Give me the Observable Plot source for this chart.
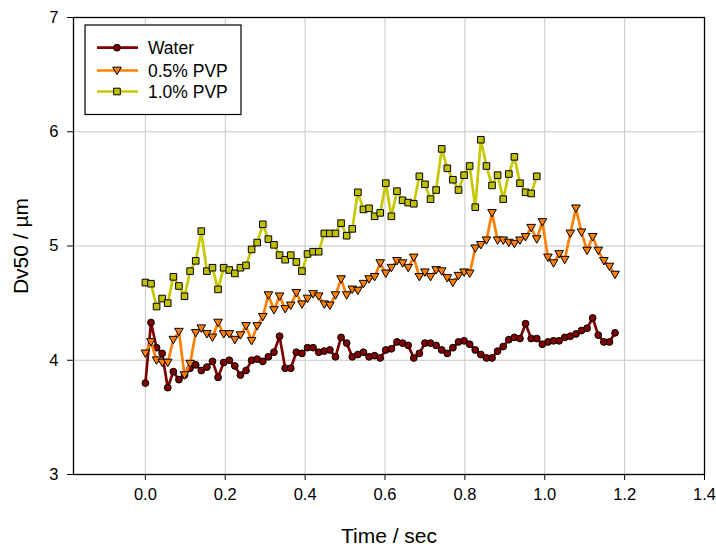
<!DOCTYPE html>
<html><head><meta charset="utf-8">
<script src="https://cdn.jsdelivr.net/npm/d3@7"></script>
<script src="https://cdn.jsdelivr.net/npm/@observablehq/plot@0.6"></script>
<style>
body{margin:0;background:#fff;}
#wrap{position:relative;width:716px;height:549px;font-family:"Liberation Sans",Arial,sans-serif;}
#legend{position:absolute;left:0;top:0;pointer-events:none;}
</style></head><body><div id="wrap"></div>
<script>
// sampling interval (sec)
const dt = 0.014;
const water = [3.80,4.33,4.11,4.06,3.76,3.90,3.83,3.87,3.93,3.96,3.91,3.94,3.99,3.85,3.98,4.00,3.95,3.87,3.91,4.00,
  4.01,3.99,4.03,4.07,4.21,3.93,3.93,4.07,4.06,4.11,4.11,4.07,4.08,4.09,4.03,4.20,4.15,4.03,4.05,4.07,
  4.03,4.04,4.02,4.09,4.10,4.16,4.15,4.13,4.02,4.06,4.15,4.15,4.13,4.09,4.06,4.11,4.16,4.17,4.14,4.09,
  4.05,4.02,4.02,4.08,4.12,4.18,4.20,4.19,4.32,4.19,4.19,4.14,4.16,4.17,4.17,4.20,4.21,4.23,4.26,4.28,
  4.37,4.22,4.16,4.16,4.24];
const pvp05 = [4.06,4.16,4.00,3.98,3.98,4.18,4.25,3.87,3.97,4.24,4.28,4.23,4.20,4.33,4.23,4.23,4.18,4.22,4.30,4.17,
  4.30,4.38,4.57,4.44,4.56,4.45,4.48,4.59,4.49,4.54,4.58,4.56,4.49,4.48,4.57,4.71,4.57,4.62,4.61,4.67,
  4.71,4.73,4.85,4.76,4.81,4.87,4.85,4.81,4.90,4.73,4.77,4.73,4.79,4.78,4.72,4.68,4.74,4.77,4.76,4.98,
  5.01,5.05,5.29,5.05,5.05,5.03,5.02,5.05,5.08,5.16,5.06,5.21,4.90,4.85,4.93,4.88,5.11,5.33,5.12,4.96,
  5.08,4.96,4.87,4.82,4.75];
const pvp10 = [4.68,4.67,4.47,4.54,4.50,4.73,4.65,4.56,4.78,4.87,5.13,4.78,4.81,4.62,4.81,4.79,4.76,4.81,4.83,4.97,
  5.03,5.19,5.06,5.01,4.92,4.88,4.92,4.86,4.78,4.93,4.95,4.95,5.11,5.11,5.11,5.20,5.09,5.15,5.47,5.32,
  5.33,5.26,5.29,5.55,5.26,5.48,5.40,5.38,5.37,5.61,5.54,5.41,5.49,5.85,5.68,5.58,5.49,5.62,5.70,5.34,
  5.93,5.70,5.53,5.62,5.41,5.63,5.78,5.55,5.47,5.46,5.61];
const seriesNames = ["Water","0.5% PVP","1.0% PVP"];
const lineColors = ["#800000","#ff8000","#c8c800"];
const fillColors = ["#800000","#ff8000","#c0c000"];
const xTicks = [0.0,0.2,0.4,0.6,0.8,1.0,1.2,1.4];
const yTicks = [3,4,5,6,7];
const xTitle = "Time / sec";
const yTitle = "Dv50 / µm";

const triangleDown = {draw(ctx, size){const r=Math.sqrt(size/Math.PI); ctx.moveTo(-r,-0.78*r); ctx.lineTo(r,-0.78*r); ctx.lineTo(0,0.95*r); ctx.closePath();}};
const squareSym = {draw(ctx, size){const r=Math.sqrt(size/Math.PI); ctx.rect(-r,-r,2*r,2*r);}};
const symbols = ["circle", triangleDown, squareSym];
const radii = [3.4, 4.3, 3.3];

const allSeries = [water, pvp05, pvp10];
const rows = allSeries.map((arr, k) => arr.map((v, i) => ({t: i*dt, v, s: seriesNames[k]})));

const marks = [
  Plot.gridX(xTicks, {stroke:"#c8c8c8", strokeOpacity:1, strokeWidth:1}),
  Plot.gridY(yTicks, {stroke:"#c8c8c8", strokeOpacity:1, strokeWidth:1}),
];
rows.forEach((data, k) => {
  marks.push(Plot.line(data, {x:"t", y:"v", stroke: lineColors[k], strokeWidth: 2.7}));
  marks.push(Plot.dot(data, {x:"t", y:"v", symbol: symbols[k], r: radii[k], fill: fillColors[k], stroke:"#000", strokeWidth:1}));
});
marks.push(
  Plot.frame({stroke:"#000", strokeWidth:1.3}),
  Plot.axisX({ticks: xTicks, tickFormat: d3.format(".1f"), tickSize: 6, tickPadding: 8, fontSize: 16.5, label: null}),
  Plot.axisY({ticks: yTicks, tickFormat: d3.format("d"), tickSize: 6, tickPadding: 9, fontSize: 16.5, label: null}),
  Plot.text([xTitle], {frameAnchor:"bottom", dy: 62, fontSize: 21, lineAnchor:"middle", textAnchor:"middle"}),
  Plot.text([yTitle], {frameAnchor:"left", dx: -52, rotate: -90, fontSize: 21, lineAnchor:"middle", textAnchor:"middle"})
);

const chart = Plot.plot({
  width: 716, height: 549,
  marginLeft: 73, marginRight: 12, marginTop: 17, marginBottom: 75,
  x: {domain: [-0.18, 1.4]},
  y: {domain: [3, 7]},
  style: {fontFamily: "Liberation Sans, Arial, sans-serif", fontSize: "16px", background: "white", color: "black"},
  marks
});
document.getElementById("wrap").appendChild(chart);

// Legend overlay
const lg = d3.select("#wrap").append("svg").attr("id","legend").attr("width",716).attr("height",549);
lg.append("rect").attr("x",85).attr("y",25).attr("width",156).attr("height",89.5).attr("fill","white").attr("stroke","#000").attr("stroke-width",1.2);
const rowY = [47.7, 70.5, 91.5];
seriesNames.forEach((name, k) => {
  const g = lg.append("g").attr("transform", `translate(0,${rowY[k]})`);
  g.append("line").attr("x1",97).attr("x2",138).attr("y1",0).attr("y2",0).attr("stroke",lineColors[k]).attr("stroke-width",2.7);
  const sym = d3.symbol().type(typeof symbols[k] === "string" ? d3.symbolCircle : symbols[k]).size(Math.PI*radii[k]*radii[k]);
  g.append("path").attr("d", sym()).attr("transform","translate(117,0)").attr("fill",fillColors[k]).attr("stroke","#000").attr("stroke-width",1);
  g.append("text").attr("x",148).attr("y",0).attr("dy","0.35em").attr("font-size",17.5).attr("font-family","Liberation Sans, Arial, sans-serif").text(name);
});
</script>
</body></html>
